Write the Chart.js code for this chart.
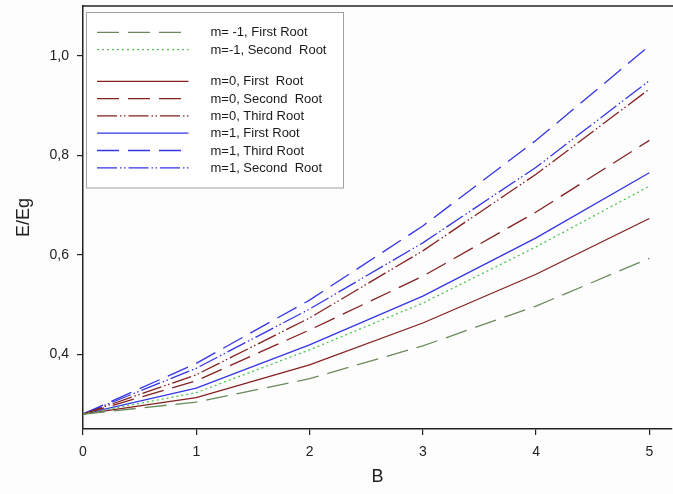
<!DOCTYPE html>
<html>
<head>
<meta charset="utf-8">
<script src="https://cdn.jsdelivr.net/npm/chart.js@4/dist/chart.umd.min.js"></script>
<style>
  html, body { margin: 0; padding: 0; background: #fdfdfd; }
  #chart { display: block; }
</style>
</head>
<body>
<canvas id="chart" width="673" height="494"></canvas>
<script>
// magnetic field B and reduced energy E/Eg for each root
const bValues = [0, 1, 2, 3, 4, 5];

const mMinus1First  = [0.280, 0.304, 0.351, 0.417, 0.497, 0.593];
const mMinus1Second = [0.280, 0.323, 0.409, 0.503, 0.616, 0.738];
const m0First  = [0.280, 0.313, 0.379, 0.463, 0.561, 0.673];
const m0Second = [0.280, 0.347, 0.449, 0.557, 0.686, 0.830];
const m0Third  = [0.280, 0.359, 0.473, 0.608, 0.762, 0.933];
const m1First  = [0.280, 0.332, 0.419, 0.517, 0.634, 0.765];
const m1Third  = [0.280, 0.382, 0.509, 0.658, 0.830, 1.020];
const m1Second = [0.280, 0.372, 0.491, 0.624, 0.776, 0.950];

const seriesLabels = [
  'm= -1, First Root',
  'm=-1, Second  Root',
  'm=0, First  Root',
  'm=0, Second  Root',
  'm=0, Third Root',
  'm=1, First Root',
  'm=1, Third Root',
  'm=1, Second  Root'
];

const xTicks = [0, 1, 2, 3, 4, 5];
const yTicks = [0.4, 0.6, 0.8, 1.0];

const GREEN_DARK = '#6a8a5c';
const GREEN = '#4cc34c';
const RED = '#842020';
const BLUE = '#3535e6';

const DASH = [22, 9];
const DOT = [2, 3];
const DASH_DOT_DOT = [20, 3, 1.5, 2.5, 1.5, 3];

const styles = [
  { color: GREEN_DARK, dash: DASH },
  { color: GREEN, dash: DOT },
  { color: RED, dash: [] },
  { color: RED, dash: DASH },
  { color: RED, dash: DASH_DOT_DOT },
  { color: BLUE, dash: [] },
  { color: BLUE, dash: DASH },
  { color: BLUE, dash: DASH_DOT_DOT }
];

const allSeries = [mMinus1First, mMinus1Second, m0First, m0Second, m0Third, m1First, m1Third, m1Second];

const datasets = allSeries.map((values, i) => ({
  label: seriesLabels[i],
  data: values.map((v, k) => ({ x: bValues[k], y: v })),
  borderColor: styles[i].color,
  borderDash: styles[i].dash,
  borderWidth: 1.3,
  pointRadius: 0,
  tension: 0,
  fill: false
}));

const FONT = 'Arial, "Liberation Sans", sans-serif';

// legend box inside the plot, with an empty row after the m=-1 entries
const boxLegend = {
  id: 'boxLegend',
  afterDraw(chart) {
    const ctx = chart.ctx;
    const area = chart.chartArea;
    const left = area.left + 3.5, top = area.top + 6.5;
    const w = 257, h = 175.5;
    ctx.save();
    ctx.fillStyle = '#ffffff';
    ctx.fillRect(left, top, w, h);
    ctx.strokeStyle = '#a0a0a0';
    ctx.lineWidth = 1;
    ctx.strokeRect(left, top, w, h);

    ctx.font = '13px ' + FONT;
    ctx.textBaseline = 'middle';
    ctx.fillStyle = '#1a1a1a';
    let y = top + 19.8;
    chart.data.datasets.forEach((ds, i) => {
      ctx.beginPath();
      ctx.strokeStyle = ds.borderColor;
      ctx.lineWidth = ds.borderWidth;
      ctx.setLineDash(ds.borderDash);
      ctx.moveTo(left + 10.5, y);
      ctx.lineTo(left + 102, y);
      ctx.stroke();
      ctx.setLineDash([]);
      ctx.fillText(ds.label, left + 124, y + 0.5);
      y += 17.3;
      if (i === 1) y += 14.4;
    });
    ctx.restore();
  }
};

// top edge of the plot frame
const topFrame = {
  id: 'topFrame',
  afterDraw(chart) {
    const ctx = chart.ctx;
    const a = chart.chartArea;
    ctx.save();
    ctx.strokeStyle = '#222';
    ctx.lineWidth = 1.5;
    ctx.beginPath();
    ctx.moveTo(a.left, a.top);
    ctx.lineTo(a.right + 1, a.top);
    ctx.stroke();
    ctx.restore();
  }
};

new Chart(document.getElementById('chart'), {
  type: 'line',
  data: { datasets },
  options: {
    responsive: false,
    animation: false,
    devicePixelRatio: 1,
    layout: { padding: { top: 6, right: 1, left: 0, bottom: 0 } },
    plugins: {
      legend: { display: false },
      tooltip: { enabled: false }
    },
    scales: {
      x: {
        type: 'linear',
        min: 0,
        max: 5.2,
        afterBuildTicks: (scale) => { scale.ticks = xTicks.map(v => ({ value: v })); },
        afterFit: (scale) => {
          scale.height = 65;
          scale.paddingLeft = 0;
          scale.paddingRight = 0;
        },
        border: { color: '#222', width: 1.5 },
        grid: { drawOnChartArea: false, drawTicks: true, tickLength: 6, color: '#222', lineWidth: 1.2 },
        ticks: { color: '#222', font: { family: FONT, size: 14 }, padding: 9, maxRotation: 0 },
        title: { display: true, text: 'B', color: '#222', font: { family: FONT, size: 18 }, padding: { top: 0, bottom: 6 } }
      },
      y: {
        type: 'linear',
        min: 0.25,
        max: 1.1,
        afterBuildTicks: (scale) => { scale.ticks = yTicks.map(v => ({ value: v })); },
        afterFit: (scale) => {
          scale.width = 83;
          scale.paddingTop = 0;
          scale.paddingBottom = 0;
        },
        border: { color: '#222', width: 1.5 },
        grid: { drawOnChartArea: false, drawTicks: true, tickLength: 6, color: '#222', lineWidth: 1.2 },
        ticks: {
          color: '#222',
          font: { family: FONT, size: 14 },
          padding: 8,
          callback: (v) => v.toFixed(1).replace('.', ',')
        },
        title: { display: true, text: 'E/Eg', color: '#222', font: { family: FONT, size: 18 }, padding: { top: 13, bottom: 0 } }
      }
    }
  },
  plugins: [boxLegend, topFrame]
});
</script>
</body>
</html>
